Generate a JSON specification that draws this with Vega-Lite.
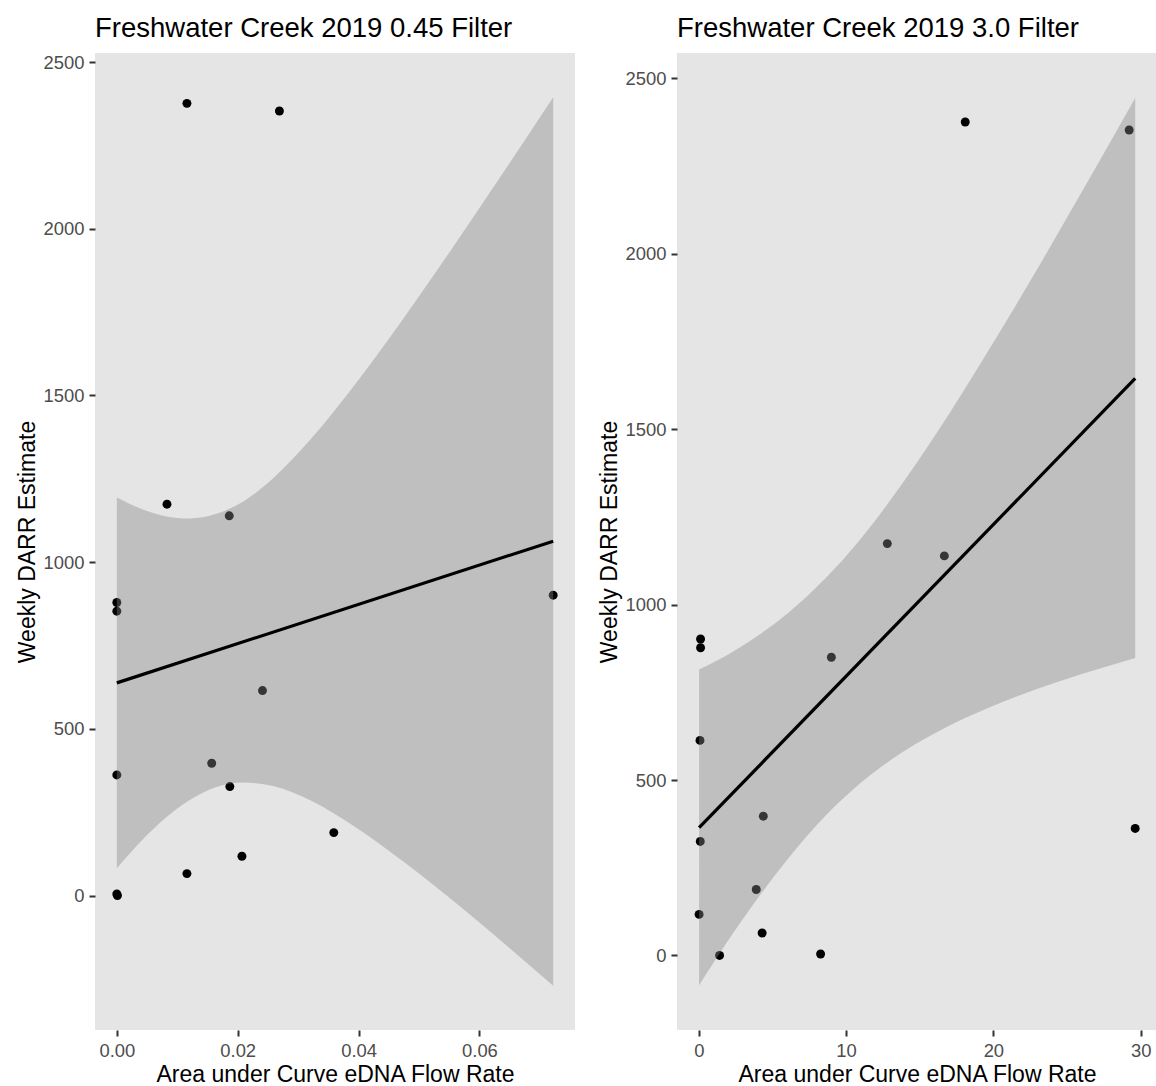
{
  "$schema": "https://vega.github.io/schema/vega-lite/v6.json",
  "background": "white",
  "padding": {"left": 16, "top": 14, "right": 0, "bottom": 0},
  "spacing": 23,
  "config": {
    "font": "Liberation Sans",
    "view": {"fill": "#E5E5E5", "stroke": null},
    "axis": {
      "grid": false, "domain": false,
      "labelFont": "Liberation Sans", "labelFontSize": 18.4, "labelColor": "#4D4D4D",
      "titleFont": "Liberation Sans", "titleFontSize": 23, "titleFontWeight": "normal", "titleColor": "#000000",
      "tickColor": "#333333", "tickWidth": 2, "tickSize": 6, "labelPadding": 5, "titlePadding": 4
    },
    "title": {"font": "Liberation Sans", "fontSize": 27.5, "fontWeight": "normal", "anchor": "start", "frame": "group", "color": "#000000", "offset": 11}
  },
  "datasets": {
    "pts045": [
      {"auc": 0.0116, "darr": 2376}, {"auc": 0.0269, "darr": 2353}, {"auc": 0.0083, "darr": 1174},
      {"auc": 0.0186, "darr": 1139}, {"auc": 0.0722, "darr": 901}, {"auc": 0, "darr": 879},
      {"auc": 0, "darr": 853}, {"auc": 0.0241, "darr": 615}, {"auc": 0.0157, "darr": 397},
      {"auc": 0, "darr": 362}, {"auc": 0.0187, "darr": 327}, {"auc": 0.0359, "darr": 189},
      {"auc": 0.0207, "darr": 118}, {"auc": 0.0116, "darr": 66}, {"auc": 0, "darr": 5},
      {"auc": 0.0001, "darr": 0}
    ],
    "band045": [
      {"auc": 0, "lo": 82, "hi": 1194}, {"auc": 0.004, "lo": 163, "hi": 1160},
      {"auc": 0.008, "lo": 232, "hi": 1138}, {"auc": 0.012, "lo": 286, "hi": 1131},
      {"auc": 0.0165, "lo": 326, "hi": 1145}, {"auc": 0.021, "lo": 339, "hi": 1183},
      {"auc": 0.026, "lo": 328, "hi": 1254}, {"auc": 0.032, "lo": 286, "hi": 1367},
      {"auc": 0.04, "lo": 199, "hi": 1547}, {"auc": 0.048, "lo": 94, "hi": 1746},
      {"auc": 0.056, "lo": -21, "hi": 1955}, {"auc": 0.064, "lo": -142, "hi": 2170},
      {"auc": 0.0722, "lo": -270, "hi": 2394}
    ],
    "fit045": [{"auc": 0, "fit": 638}, {"auc": 0.0722, "fit": 1063}],
    "pts30": [
      {"auc": 18.09, "darr": 2376}, {"auc": 29.22, "darr": 2353}, {"auc": 12.8, "darr": 1174},
      {"auc": 16.67, "darr": 1139}, {"auc": 0.12, "darr": 902}, {"auc": 0.12, "darr": 877},
      {"auc": 9.0, "darr": 850}, {"auc": 0.08, "darr": 613}, {"auc": 4.38, "darr": 397},
      {"auc": 29.63, "darr": 362}, {"auc": 0.1, "darr": 325}, {"auc": 3.9, "darr": 188},
      {"auc": 0.02, "darr": 117}, {"auc": 4.3, "darr": 64}, {"auc": 8.27, "darr": 4},
      {"auc": 1.41, "darr": 0}
    ],
    "band30": [
      {"auc": 0.02, "lo": -85, "hi": 815}, {"auc": 2, "lo": 43, "hi": 858},
      {"auc": 4, "lo": 163, "hi": 911}, {"auc": 6, "lo": 273, "hi": 974},
      {"auc": 8.6, "lo": 398, "hi": 1075}, {"auc": 11, "lo": 492, "hi": 1188},
      {"auc": 14, "lo": 584, "hi": 1356}, {"auc": 17, "lo": 655, "hi": 1544},
      {"auc": 20, "lo": 712, "hi": 1747}, {"auc": 23, "lo": 760, "hi": 1958},
      {"auc": 26, "lo": 802, "hi": 2176}, {"auc": 29.63, "lo": 848, "hi": 2444}
    ],
    "fit30": [{"auc": 0.02, "fit": 364}, {"auc": 29.63, "fit": 1645}]
  },
  "hconcat": [
    {
      "width": 480, "height": 977,
      "title": "Freshwater Creek 2019 0.45 Filter",
      "layer": [
        {
          "data": {"name": "pts045"},
          "mark": {"type": "circle", "color": "#000000", "size": 80, "opacity": 1},
          "encoding": {
            "x": {"field": "auc", "type": "quantitative", "title": "Area under Curve eDNA Flow Rate",
                  "scale": {"domain": [-0.00361, 0.07581], "nice": false, "zero": false},
                  "axis": {"values": [0, 0.02, 0.04, 0.06], "format": ".2f"}},
            "y": {"field": "darr", "type": "quantitative", "title": "Weekly DARR Estimate",
                  "scale": {"domain": [-403, 2527], "nice": false, "zero": false},
                  "axis": {"values": [0, 500, 1000, 1500, 2000, 2500], "format": "d"}}
          }
        },
        {
          "data": {"name": "band045"},
          "mark": {"type": "area", "color": "#888888", "opacity": 0.4, "interpolate": "monotone"},
          "encoding": {
            "x": {"field": "auc", "type": "quantitative", "title": "Area under Curve eDNA Flow Rate"},
            "y": {"field": "lo", "type": "quantitative", "title": "Weekly DARR Estimate"},
            "y2": {"field": "hi"}
          }
        },
        {
          "data": {"name": "fit045"},
          "mark": {"type": "line", "color": "#000000", "strokeWidth": 3.2},
          "encoding": {
            "x": {"field": "auc", "type": "quantitative", "title": "Area under Curve eDNA Flow Rate"},
            "y": {"field": "fit", "type": "quantitative", "title": "Weekly DARR Estimate"}
          }
        }
      ]
    },
    {
      "width": 480, "height": 977,
      "title": "Freshwater Creek 2019 3.0 Filter",
      "layer": [
        {
          "data": {"name": "pts30"},
          "mark": {"type": "circle", "color": "#000000", "size": 80, "opacity": 1},
          "encoding": {
            "x": {"field": "auc", "type": "quantitative", "title": "Area under Curve eDNA Flow Rate",
                  "scale": {"domain": [-1.48, 31.11], "nice": false, "zero": false},
                  "axis": {"values": [0, 10, 20, 30], "format": "d"}},
            "y": {"field": "darr", "type": "quantitative", "title": "Weekly DARR Estimate",
                  "scale": {"domain": [-212.6, 2572.6], "nice": false, "zero": false},
                  "axis": {"values": [0, 500, 1000, 1500, 2000, 2500], "format": "d"}}
          }
        },
        {
          "data": {"name": "band30"},
          "mark": {"type": "area", "color": "#888888", "opacity": 0.4, "interpolate": "monotone"},
          "encoding": {
            "x": {"field": "auc", "type": "quantitative", "title": "Area under Curve eDNA Flow Rate"},
            "y": {"field": "lo", "type": "quantitative", "title": "Weekly DARR Estimate"},
            "y2": {"field": "hi"}
          }
        },
        {
          "data": {"name": "fit30"},
          "mark": {"type": "line", "color": "#000000", "strokeWidth": 3.2},
          "encoding": {
            "x": {"field": "auc", "type": "quantitative", "title": "Area under Curve eDNA Flow Rate"},
            "y": {"field": "fit", "type": "quantitative", "title": "Weekly DARR Estimate"}
          }
        }
      ]
    }
  ]
}
